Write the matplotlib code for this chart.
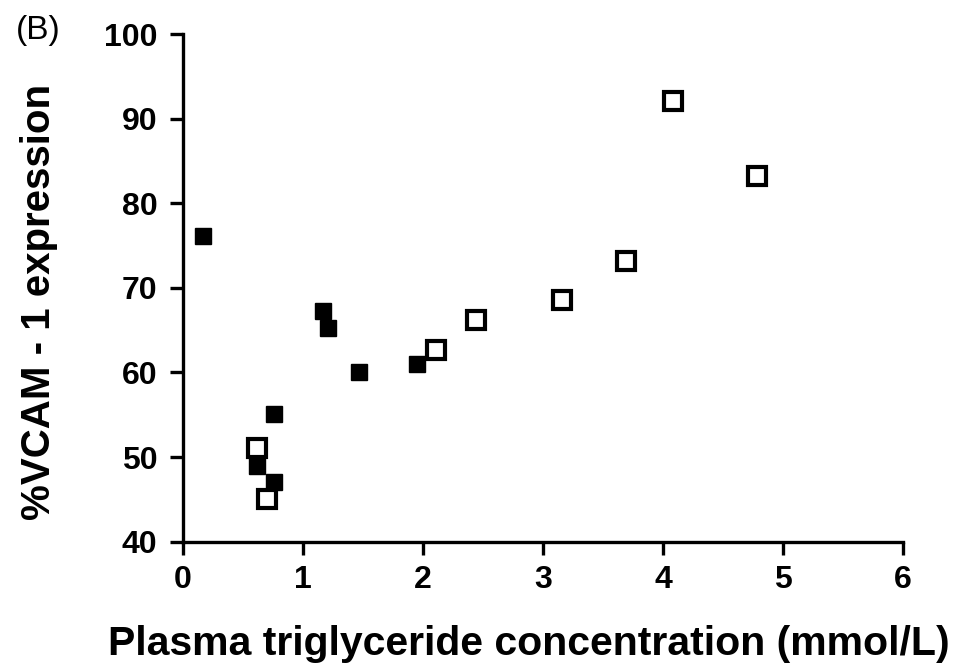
import matplotlib
matplotlib.use("Agg")
import matplotlib.pyplot as plt

plt.rcParams['font.family'] = ['Liberation Sans', 'DejaVu Sans']

# filled squares
tg_filled = [0.165, 0.62, 0.755, 0.757, 1.165, 1.207, 1.47, 1.95]
vcam_filled = [76.1, 49.0, 47.1, 55.1, 67.3, 65.2, 60.1, 61.0]

# open squares
tg_open = [0.615, 0.70, 2.11, 2.44, 3.16, 3.69, 4.08, 4.78]
vcam_open = [51.1, 45.1, 62.6, 66.2, 68.6, 73.2, 92.1, 83.2]

xticks = [0, 1, 2, 3, 4, 5, 6]
yticks = [40, 50, 60, 70, 80, 90, 100]

fig = plt.figure(figsize=(9.66, 6.71), dpi=100)
ax = fig.add_axes([0.1894, 0.1927, 0.7454, 0.7566])

ax.plot(tg_filled, vcam_filled, linestyle='none', marker='s', markersize=12,
        color='black', markeredgewidth=1)
ax.plot(tg_open, vcam_open, linestyle='none', marker='s', markersize=13,
        markerfacecolor='white', markeredgecolor='black', markeredgewidth=3)

ax.set_xlim(0, 6)
ax.set_ylim(40, 100)
ax.set_xticks(xticks)
ax.set_yticks(yticks)
ax.spines['top'].set_visible(False)
ax.spines['right'].set_visible(False)
for s in ['left', 'bottom']:
    ax.spines[s].set_linewidth(2.4)
ax.tick_params(width=2.4, length=9.5, labelsize=23)
ax.tick_params(axis='y', pad=9)
ax.tick_params(axis='x', pad=7)
for lab in ax.get_xticklabels() + ax.get_yticklabels():
    lab.set_fontweight('bold')

ax.set_xlabel('Plasma triglyceride concentration (mmol/L)', fontsize=29.5,
              fontweight='bold')
ax.xaxis.set_label_coords(0.48, -0.165)
ax.set_ylabel('%VCAM - 1 expression', fontsize=29, fontweight='bold')
ax.yaxis.set_label_coords(-0.174, 0.472)
fig.text(0.016, 0.977, '(B)', fontsize=24, va='top')

fig.savefig('out.png', dpi=100)
